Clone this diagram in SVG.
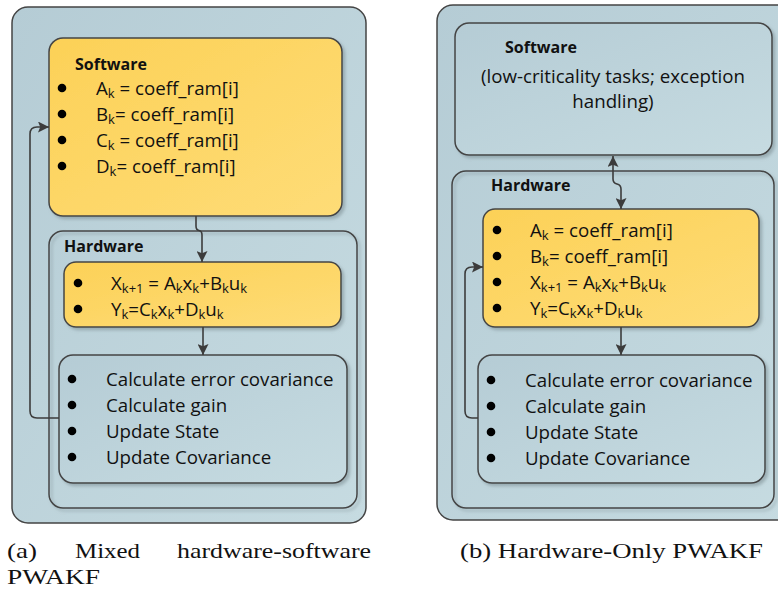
<svg xmlns="http://www.w3.org/2000/svg" width="778" height="594" viewBox="0 0 778 594">
<defs>
<linearGradient id="gBlue" x1="0" y1="0" x2="1" y2="1">
<stop offset="0" stop-color="#b5ccd5"/>
<stop offset="1" stop-color="#c6dbe1"/>
</linearGradient>
<linearGradient id="gYel" x1="0" y1="0" x2="1" y2="1">
<stop offset="0" stop-color="#fcd157"/>
<stop offset="1" stop-color="#fedc77"/>
</linearGradient>
<filter id="sh" x="-5%" y="-5%" width="115%" height="115%">
<feDropShadow dx="2.5" dy="2.5" stdDeviation="1.5" flood-color="#7a8a90" flood-opacity="0.55"/>
</filter>
<marker id="arr" viewBox="0 0 10 10" refX="10" refY="5" markerWidth="11" markerHeight="11" orient="auto-start-reverse" markerUnits="userSpaceOnUse">
<path d="M0,0 L10,5 L0,10 L2,5 z" fill="#3c3c3c"/>
</marker>
</defs>
<style>
.panel{fill:url(#gBlue);stroke:#444;stroke-width:1.5}
.blue{fill:url(#gBlue);stroke:#444;stroke-width:1.5;filter:url(#sh)}
.yel{fill:url(#gYel);stroke:#444;stroke-width:1.5;filter:url(#sh)}
.frame{fill:none;stroke:#444;stroke-width:1.5}
.t{font-family:"Open Sans","Liberation Sans",sans-serif;font-size:18.7px;fill:#111}
.h{font-family:"Open Sans","Liberation Sans",sans-serif;font-size:16px;font-weight:bold;fill:#111}
.s{font-size:13px}
.b{fill:#000}
.c{fill:none;stroke:#3c3c3c;stroke-width:1.6}
.cap{font-family:"Liberation Serif","DejaVu Serif",serif;font-size:22px;fill:#111}
</style>

<!-- Left panel -->
<g id="panelA">
<rect class="panel" x="12" y="7" width="354" height="516" rx="16"/>
</g>
<g id="hwA">
<rect class="frame" x="49" y="231" width="308" height="277" rx="14" style="filter:url(#sh)"/>
<text class="h" x="64" y="252">Hardware</text>
</g>
<g id="swA">
<rect class="yel" x="49" y="38" width="293" height="178" rx="14"/>
<text class="h" x="75" y="70">Software</text>
<circle class="b" cx="62" cy="88" r="4.3"/>
<circle class="b" cx="62" cy="114" r="4.3"/>
<circle class="b" cx="62" cy="140" r="4.3"/>
<circle class="b" cx="62" cy="166" r="4.3"/>
<text class="t" x="96" y="95">A<tspan class="s" dy="3">k</tspan><tspan dy="-3"> = coeff_ram[i]</tspan></text>
<text class="t" x="96" y="121">B<tspan class="s" dy="3">k</tspan><tspan dy="-3">= coeff_ram[i]</tspan></text>
<text class="t" x="96" y="147">C<tspan class="s" dy="3">k</tspan><tspan dy="-3"> = coeff_ram[i]</tspan></text>
<text class="t" x="96" y="173">D<tspan class="s" dy="3">k</tspan><tspan dy="-3">= coeff_ram[i]</tspan></text>
</g>
<g id="stateA">
<rect class="yel" x="64" y="262" width="277" height="65" rx="12"/>
<circle class="b" cx="78" cy="283" r="4.3"/>
<circle class="b" cx="78" cy="309" r="4.3"/>
<text class="t" x="111" y="290">X<tspan class="s" dy="3">k+1</tspan><tspan dy="-3"> = A</tspan><tspan class="s" dy="3">k</tspan><tspan dy="-3">x</tspan><tspan class="s" dy="3">k</tspan><tspan dy="-3">+B</tspan><tspan class="s" dy="3">k</tspan><tspan dy="-3">u</tspan><tspan class="s" dy="3">k</tspan></text>
<text class="t" x="111" y="316">Y<tspan class="s" dy="3">k</tspan><tspan dy="-3">=C</tspan><tspan class="s" dy="3">k</tspan><tspan dy="-3">x</tspan><tspan class="s" dy="3">k</tspan><tspan dy="-3">+D</tspan><tspan class="s" dy="3">k</tspan><tspan dy="-3">u</tspan><tspan class="s" dy="3">k</tspan></text>
</g>
<g id="kalmanA">
<rect class="blue" x="59" y="355" width="288" height="128" rx="14"/>
<circle class="b" cx="72" cy="379" r="4.3"/>
<circle class="b" cx="72" cy="405" r="4.3"/>
<circle class="b" cx="72" cy="431" r="4.3"/>
<circle class="b" cx="72" cy="457" r="4.3"/>
<text class="t" x="106" y="386">Calculate error covariance</text>
<text class="t" x="106" y="412">Calculate gain</text>
<text class="t" x="106" y="438">Update State</text>
<text class="t" x="106" y="464">Update Covariance</text>
</g>

<!-- Right panel -->
<g id="panelB">
<rect class="panel" x="437" y="5" width="360" height="515" rx="16"/>
</g>
<g id="swB">
<rect class="blue" x="455" y="23" width="317" height="132" rx="14"/>
<text class="h" x="505" y="53">Software</text>
<text class="t" x="613" y="83" text-anchor="middle">(low-criticality tasks; exception</text>
<text class="t" x="613" y="108" text-anchor="middle">handling)</text>
</g>
<g id="hwB">
<rect class="frame" x="452" y="171" width="322" height="337" rx="14" style="filter:url(#sh)"/>
<text class="h" x="491" y="191">Hardware</text>
</g>
<g id="stateB">
<rect class="yel" x="483" y="209" width="276" height="118" rx="12"/>
<circle class="b" cx="497" cy="230" r="4.3"/>
<circle class="b" cx="497" cy="256" r="4.3"/>
<circle class="b" cx="497" cy="282" r="4.3"/>
<circle class="b" cx="497" cy="308" r="4.3"/>
<text class="t" x="530" y="237">A<tspan class="s" dy="3">k</tspan><tspan dy="-3"> = coeff_ram[i]</tspan></text>
<text class="t" x="530" y="263">B<tspan class="s" dy="3">k</tspan><tspan dy="-3">= coeff_ram[i]</tspan></text>
<text class="t" x="530" y="289">X<tspan class="s" dy="3">k+1</tspan><tspan dy="-3"> = A</tspan><tspan class="s" dy="3">k</tspan><tspan dy="-3">x</tspan><tspan class="s" dy="3">k</tspan><tspan dy="-3">+B</tspan><tspan class="s" dy="3">k</tspan><tspan dy="-3">u</tspan><tspan class="s" dy="3">k</tspan></text>
<text class="t" x="530" y="315">Y<tspan class="s" dy="3">k</tspan><tspan dy="-3">=C</tspan><tspan class="s" dy="3">k</tspan><tspan dy="-3">x</tspan><tspan class="s" dy="3">k</tspan><tspan dy="-3">+D</tspan><tspan class="s" dy="3">k</tspan><tspan dy="-3">u</tspan><tspan class="s" dy="3">k</tspan></text>
</g>
<g id="kalmanB">
<rect class="blue" x="478" y="355" width="287" height="128" rx="14"/>
<circle class="b" cx="491" cy="380" r="4.3"/>
<circle class="b" cx="491" cy="406" r="4.3"/>
<circle class="b" cx="491" cy="432" r="4.3"/>
<circle class="b" cx="491" cy="458" r="4.3"/>
<text class="t" x="525" y="387">Calculate error covariance</text>
<text class="t" x="525" y="413">Calculate gain</text>
<text class="t" x="525" y="439">Update State</text>
<text class="t" x="525" y="465">Update Covariance</text>
</g>

<g id="connectors">
<path class="c" d="M196,216 V226 Q196,230 199,230.5 Q202,231 202,235 V262" marker-end="url(#arr)"/>
<path class="c" d="M203,327 V355" marker-end="url(#arr)"/>
<path class="c" d="M59,418 H37 Q30,418 30,411 V134 Q30,127 37,127 H49" marker-end="url(#arr)"/>
<path class="c" d="M613,156 V179 Q613,183 617,184 Q621,185 621,189 V209" marker-start="url(#arr)" marker-end="url(#arr)"/>
<path class="c" d="M621,327 V355" marker-end="url(#arr)"/>
<path class="c" d="M478,418 H472 Q465,418 465,411 V274 Q465,267 472,267 H483" marker-end="url(#arr)"/>
</g>

<g id="captions">
<text class="cap" x="7" y="558" textLength="30" lengthAdjust="spacingAndGlyphs">(a)</text>
<text class="cap" x="75" y="558" textLength="65" lengthAdjust="spacingAndGlyphs">Mixed</text>
<text class="cap" x="177" y="558" textLength="194" lengthAdjust="spacingAndGlyphs">hardware-software</text>
<text class="cap" x="7" y="584" textLength="93" lengthAdjust="spacingAndGlyphs">PWAKF</text>
<text class="cap" x="460" y="558" textLength="303" lengthAdjust="spacingAndGlyphs">(b) Hardware-Only PWAKF</text>
</g>
</svg>
